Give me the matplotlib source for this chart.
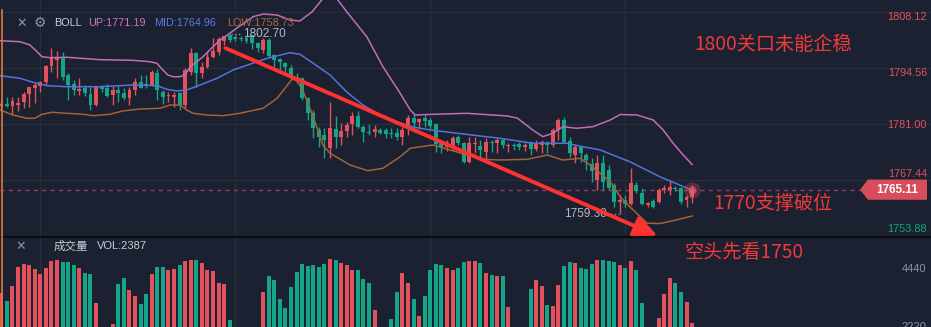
#!/usr/bin/env python

import numpy as np
import matplotlib
matplotlib.use('Agg')
import matplotlib.pyplot as plt
from matplotlib.patches import Polygon, FancyArrowPatch
from matplotlib.lines import Line2D
from matplotlib.transforms import blended_transform_factory

#### Candle data ####
opens = [1785.4, 1785.9, 1785.4, 1785.6, 1786.3, 1788.3, 1789.7, 1790.2, 1791.2, 1795.1,
         1796.5, 1797.2, 1792.9, 1790.7, 1789.0, 1789.7, 1788.3, 1785.6, 1790.0, 1789.7,
         1788.0, 1789.2, 1788.5, 1787.3, 1789.2, 1791.2, 1790.7, 1790.5, 1793.4, 1788.8,
         1787.8, 1787.6, 1788.5, 1785.6, 1793.6, 1798.2, 1793.4, 1794.8, 1797.2, 1798.4,
         1801.1, 1802.5, 1802.1, 1801.8, 1801.8, 1802.5, 1800.6, 1798.9, 1801.4, 1797.7,
         1796.8, 1795.8, 1794.6, 1792.4, 1792.2, 1787.3, 1783.7, 1779.6, 1778.4, 1775.2,
         1779.8, 1777.9, 1779.3, 1781.0, 1782.9, 1780.3, 1779.1, 1779.1, 1779.6, 1779.6,
         1778.7, 1778.8, 1777.9, 1780.3, 1782.5, 1781.5, 1782.5, 1782.0, 1781.0, 1776.7,
         1775.4, 1775.4, 1777.9, 1776.4, 1771.8, 1776.2, 1775.7, 1774.2, 1776.7, 1776.4,
         1777.1, 1775.7, 1775.9, 1776.2, 1775.4, 1776.4, 1775.0, 1775.9, 1776.4, 1775.9,
         1779.6, 1782.0, 1776.9, 1773.5, 1775.4, 1773.5, 1771.3, 1767.5, 1771.6, 1769.9,
         1766.2, 1762.1, 1762.6, 1761.6, 1766.2, 1764.3, 1761.4, 1762.4, 1762.1, 1765.0,
         1765.0, 1765.5, 1765.5, 1762.6, 1763.3]
highs = [1786.8, 1787.5, 1787.5, 1787.5, 1788.8, 1790.0, 1790.9, 1791.4, 1795.3, 1799.4,
         1798.7, 1798.4, 1793.4, 1791.7, 1792.2, 1790.5, 1790.0, 1790.0, 1790.5, 1790.7,
         1790.2, 1790.2, 1789.7, 1790.0, 1792.2, 1792.9, 1792.9, 1794.1, 1794.3, 1789.2,
         1788.8, 1788.8, 1788.8, 1794.6, 1799.4, 1798.4, 1796.0, 1798.4, 1801.8, 1802.1,
         1802.4, 1802.7, 1802.5, 1802.3, 1802.3, 1802.6, 1800.9, 1801.8, 1801.8, 1798.0,
         1797.0, 1796.0, 1795.3, 1793.4, 1792.4, 1787.6, 1784.4, 1780.3, 1780.0, 1786.3,
         1782.9, 1781.3, 1781.5, 1783.9, 1784.2, 1780.8, 1781.0, 1780.8, 1780.0, 1780.0,
         1780.0, 1780.0, 1780.3, 1783.2, 1783.4, 1782.5, 1783.2, 1782.5, 1781.3, 1777.1,
         1777.1, 1778.1, 1778.4, 1776.7, 1777.9, 1777.9, 1777.1, 1777.6, 1777.1, 1777.6,
         1777.4, 1776.4, 1776.4, 1776.7, 1776.4, 1776.9, 1777.1, 1777.1, 1776.9, 1780.0,
         1782.5, 1782.7, 1777.9, 1775.9, 1775.6, 1774.0, 1772.8, 1773.5, 1773.5, 1771.1,
         1766.7, 1763.8, 1763.8, 1770.4, 1767.0, 1765.5, 1762.1, 1762.9, 1765.5, 1766.2,
         1767.5, 1766.0, 1765.8, 1763.8, 1766.2]
lows = [1784.9, 1785.1, 1783.2, 1784.2, 1784.9, 1785.1, 1786.1, 1788.8, 1790.5, 1793.6,
        1792.2, 1791.7, 1786.8, 1788.0, 1788.0, 1787.8, 1784.4, 1785.4, 1788.8, 1787.6,
        1785.6, 1786.3, 1786.8, 1785.6, 1788.0, 1789.7, 1789.7, 1790.2, 1786.8, 1785.9,
        1786.3, 1785.1, 1784.4, 1784.9, 1792.9, 1790.0, 1792.2, 1794.6, 1797.0, 1797.7,
        1800.1, 1800.9, 1801.1, 1801.1, 1800.6, 1799.2, 1798.4, 1798.2, 1797.0, 1794.6,
        1794.1, 1793.6, 1792.2, 1790.9, 1786.8, 1782.0, 1777.6, 1775.4, 1772.8, 1772.8,
        1775.2, 1775.9, 1777.9, 1778.4, 1780.0, 1776.7, 1778.4, 1777.9, 1778.6, 1777.6,
        1777.6, 1777.1, 1775.9, 1778.4, 1779.1, 1779.8, 1780.3, 1779.8, 1774.2, 1774.0,
        1774.5, 1774.7, 1775.9, 1771.6, 1771.6, 1774.0, 1772.8, 1772.3, 1774.2, 1774.0,
        1775.2, 1774.2, 1774.7, 1774.7, 1774.5, 1773.5, 1774.5, 1774.0, 1774.0, 1775.4,
        1777.1, 1776.4, 1773.0, 1771.6, 1771.8, 1769.9, 1767.0, 1765.0, 1765.0, 1765.0,
        1760.9, 1759.3, 1760.9, 1761.4, 1764.3, 1761.4, 1760.9, 1760.7, 1761.9, 1764.3,
        1763.8, 1764.8, 1761.6, 1760.9, 1761.9]
closes = [1785.9, 1785.4, 1786.6, 1786.1, 1788.3, 1790.0, 1790.5, 1791.2, 1795.1, 1797.0,
          1797.2, 1792.4, 1790.5, 1789.2, 1789.5, 1788.5, 1785.6, 1790.0, 1789.5, 1787.8,
          1789.2, 1788.5, 1787.3, 1789.2, 1791.2, 1789.7, 1790.2, 1793.6, 1789.2, 1787.6,
          1788.0, 1788.0, 1785.6, 1794.1, 1798.2, 1793.4, 1794.8, 1797.2, 1798.7, 1801.6,
          1802.3, 1801.4, 1801.6, 1801.6, 1801.1, 1800.6, 1799.4, 1801.4, 1797.5, 1796.5,
          1796.0, 1794.8, 1792.4, 1791.7, 1787.3, 1783.7, 1780.0, 1777.9, 1777.1, 1780.0,
          1777.9, 1779.3, 1780.8, 1782.9, 1780.3, 1779.1, 1778.8, 1779.8, 1778.8, 1778.6,
          1778.5, 1777.9, 1779.6, 1782.5, 1781.3, 1782.2, 1781.7, 1780.5, 1776.1, 1775.4,
          1776.2, 1777.6, 1776.4, 1771.8, 1776.4, 1776.4, 1774.7, 1776.7, 1776.4, 1777.1,
          1775.9, 1775.9, 1775.7, 1775.4, 1775.9, 1775.0, 1776.4, 1776.7, 1775.9, 1779.6,
          1782.0, 1776.6, 1774.0, 1775.4, 1774.0, 1772.3, 1769.6, 1771.6, 1767.0, 1765.5,
          1762.1, 1762.6, 1761.6, 1766.7, 1764.8, 1761.6, 1761.9, 1760.9, 1765.0, 1765.5,
          1765.8, 1765.3, 1762.1, 1763.3, 1765.11]
volumes = [3522, 3218, 3776, 4535, 4649, 4585, 4433, 4243, 4497, 4763,
           4801, 4725, 4725, 4585, 4497, 4308, 4243, 3143, 1900, 1800,
           2334, 3852, 4118, 3624, 3397, 3093, 3473, 4243, 4535, 4535,
           4395, 4459, 4611, 4763, 4801, 4801, 4687, 4421, 4357, 3928,
           3852, 2486, 1900, 1700, 1800, 2000, 2100, 3549, 4194, 4042,
           3283, 2941, 3738, 4346, 4649, 4573, 4611, 4535, 4649, 4839,
           4801, 4687, 4611, 4421, 4421, 4080, 3928, 2865, 1950, 2050,
           2524, 3549, 4308, 3890, 3283, 2638, 3397, 4421, 4649, 4611,
           4497, 4421, 4497, 4725, 4763, 4763, 4687, 4308, 4232, 4194,
           4194, 2979, 1900, 1800, 2050, 3662, 4042, 3776, 3055, 3017,
           3814, 4573, 4725, 4687, 4497, 4459, 4649, 4801, 4801, 4763,
           4725, 4611, 4497, 4763, 4421, 3131, 2000, 2100, 2562, 3473,
           4118, 3928, 3549, 3169, 2387]

#### BOLL traces (candle index, price) ####
up_idx = [-0.24, 3.35, 5.15, 6.4, 7.3, 8.7, 11.8, 17.7, 23.6, 26.7, 27.9, 29.0, 29.9,
          30.8, 32.1, 33.0, 33.9, 35.1, 36.2, 38.0, 39.3, 41.0, 42.8, 45.2, 47.0, 49.5,
          51.8, 53.6, 55.8, 59.0, 62.0, 65.6, 68.5, 71.6, 73.4, 74.3, 77.5, 83.6, 90.8,
          92.6, 95.4, 97.2, 99.0, 100.8, 103.3, 106.2, 109.3, 111.1, 114.1, 117.0, 118.8,
          120.6, 122.4, 124.0]
up_val = [1801.18, 1800.93, 1800.14, 1798.51, 1797.30, 1797.06, 1797.16, 1796.58, 1796.43,
          1796.09, 1795.71, 1794.08, 1792.87, 1792.46, 1792.46, 1793.04, 1794.88, 1796.09,
          1797.30, 1799.72, 1801.35, 1802.97, 1804.74, 1806.99, 1807.64, 1807.40, 1806.19,
          1805.95, 1808.20, 1813.50, 1808.20, 1802.14, 1794.88, 1788.44, 1784.40, 1783.19,
          1783.36, 1783.60, 1782.95, 1782.46, 1779.56, 1777.94, 1778.76, 1780.36, 1779.97,
          1780.36, 1781.98, 1783.31, 1783.19, 1781.98, 1779.56, 1776.34, 1773.50, 1771.19]
mid_idx = [-0.24, 3.35, 5.7, 8.2, 11.8, 17.7, 23.6, 28.0, 29.7, 31.5, 33.3, 35.7, 38.7,
           41.6, 47.7, 51.8, 53.6, 56.0, 59.0, 62.0, 64.9, 68.0, 71.0, 73.9, 77.0, 82.9,
           89.5, 95.4, 101.5, 104.4, 107.5, 112.8, 118.2, 124.0]
mid_val = [1792.70, 1792.07, 1791.11, 1790.28, 1790.04, 1790.04, 1790.45, 1790.28, 1789.41,
           1789.00, 1789.24, 1790.45, 1792.07, 1794.08, 1796.91, 1798.27, 1797.88, 1795.71,
           1792.87, 1788.76, 1785.61, 1783.19, 1781.49, 1780.28, 1779.56, 1778.59, 1777.55,
           1776.34, 1776.34, 1775.51, 1774.72, 1771.88, 1768.25, 1764.96]
low_idx = [-0.24, 2.1, 4.6, 6.0, 7.3, 9.1, 11.8, 14.7, 16.5, 19.5, 21.8, 24.9, 28.5, 30.3,
           32.1, 33.3, 34.4, 36.9, 39.8, 42.8, 47.0, 49.5, 50.9, 52.2, 53.1, 54.2, 55.4,
           56.7, 57.7, 59.0, 62.6, 65.8, 68.5, 71.6, 73.4, 77.5, 83.6, 86.5, 89.5, 94.4,
           98.0, 100.8, 103.9, 105.7, 107.5, 109.3, 111.1, 112.8, 115.9, 118.2, 120.6, 124.0]
low_val = [1784.40, 1783.19, 1782.39, 1782.39, 1783.36, 1783.84, 1783.60, 1783.36, 1783.02,
           1783.36, 1784.16, 1784.64, 1784.81, 1785.61, 1785.61, 1784.40, 1783.60, 1783.19,
           1783.02, 1783.60, 1784.81, 1787.23, 1789.65, 1791.90, 1791.42, 1788.83, 1784.81,
           1779.97, 1775.93, 1773.92, 1771.08, 1769.70, 1770.28, 1773.09, 1775.13, 1775.93,
           1773.51, 1772.46, 1772.29, 1772.46, 1773.51, 1772.29, 1772.71, 1771.08, 1769.07,
           1767.04, 1763.41, 1760.99, 1757.00, 1756.90, 1757.60, 1758.73]

# price axis levels, volume axis levels
price_levels = [1808.12, 1794.56, 1781.00, 1767.44, 1753.88]
volume_levels = [4440, 2220]
last_price = 1765.11
last_vol = 2387
peak_price = 1802.70
trough_price = 1759.30
trend_start = (40.2, 1799.4)
trend_end = (117.8, 1753.9)

#### Colours ####
bg = '#1b2130'
grid_col = '#262d3b'
red = '#e2515c'
green = '#14a587'
up_col = '#c46cb9'
mid_col = '#5672df'
low_col = '#a2623a'
note_col = '#f23a3a'
text_col = '#c9ccd4'
muted = '#8f95a1'

W, H = 931, 327
def fig_xy(x, y):
    return x / W, 1 - y / H

opens = np.array(opens)
closes = np.array(closes)
highs = np.array(highs)
lows = np.array(lows)
idx = np.arange(len(opens))
rising = closes >= opens
colors = np.where(rising, red, green)

fig = plt.figure(figsize=(W / 100, H / 100), dpi=100)
fig.patch.set_facecolor(bg)

split = 236.5
ax = fig.add_axes([0, (H - split) / H, 1, split / H])
axv = fig.add_axes([0, 0, 1, (H - split - 1.5) / H])

xmin, xmax = -0.239, 166.88
for a in (ax, axv):
    a.set_facecolor(bg)
    a.set_xlim(xmin, xmax)
    a.set_xticks([])
    a.set_yticks([])
    for s in a.spines.values():
        s.set_visible(False)
    for gx in [7, 42, 77, 112]:
        a.axvline(gx, color=grid_col, lw=1, zorder=0)

ax.set_ylim(1753.77, 1811.03)
axv.set_ylim(2220, 5636)

#### Price panel ####
for lv in price_levels[:-1]:
    ax.axhline(lv, color=grid_col, lw=1, zorder=0)

ax.vlines(idx, lows, highs, colors=colors, lw=1, zorder=2)
body = np.maximum(np.abs(closes - opens), 0.25)
ax.bar(idx, body, bottom=np.minimum(opens, closes), width=0.7, color=colors,
       linewidth=0, zorder=3)

ax.plot(up_idx, up_val, color=up_col, lw=1.1, zorder=4)
ax.plot(mid_idx, mid_val, color=mid_col, lw=1.1, zorder=4)
ax.plot(low_idx, low_val, color=low_col, lw=1.1, zorder=4)

# last price line and the glowing dot on the last candle
box_left = (860 - 1.33) / 5.571
ax.plot([xmin, box_left], [last_price, last_price], color='#8e4253', lw=1,
        dashes=(3, 3), zorder=1)
ax.scatter([idx[-1]], [last_price], s=140, color='#ff4d5e', alpha=0.25, lw=0, zorder=5)
ax.scatter([idx[-1]], [last_price], s=35, color='#ff5c6c', alpha=0.55, lw=0, zorder=5)

# high / low markers
ax.plot([41.3, 43.1], [peak_price, peak_price], color=muted, lw=1, ls=':', zorder=5)
ax.text(43.4, peak_price, '%.2f' % peak_price, color='#b4b8c2', fontsize=8.5,
        family='Liberation Sans', ha='left', va='center', zorder=6)
ax.plot([108.8, 110.8], [trough_price, trough_price], color=muted, lw=1, ls=':', zorder=5)
ax.text(108.6, trough_price, '%.2f' % trough_price, color='#b4b8c2', fontsize=8.5,
        family='Liberation Sans', ha='right', va='center', zorder=6)

# trend arrow
arrow = FancyArrowPatch(trend_start, trend_end,
                        arrowstyle='-|>,head_length=0.7,head_width=0.32',
                        mutation_scale=20, color='#ff3131', lw=2.8, zorder=7,
                        clip_on=False, shrinkA=0, shrinkB=0)
ax.add_patch(arrow)

# price axis labels
yt = ax.get_yaxis_transform()
label_cols = [red, red, red, red, green]
label_dy = [-5, -5, -1, 6, 7]
for lv, c, dy in zip(price_levels, label_cols, label_dy):
    ax.annotate('%.2f' % lv, xy=(0.9957, lv), xycoords=yt, xytext=(0, dy),
                textcoords='offset pixels', ha='right', va='center', color=c,
                fontsize=7.8, family='Liberation Sans', zorder=8)

# last price tag
bt = blended_transform_factory(ax.transAxes, ax.transData)
hh = 2.45
tag = Polygon([(860 / W, last_price), (868 / W, last_price + hh), (927 / W, last_price + hh),
               (927 / W, last_price - hh), (868 / W, last_price - hh)],
              closed=True, transform=bt, facecolor='#d84d59', edgecolor='none', zorder=9)
ax.add_patch(tag)
ax.text(897 / W, last_price, '%.2f' % last_price, transform=bt, color='white',
        fontsize=8.5, fontweight='bold', family='Liberation Sans',
        ha='center', va='center', zorder=10)

#### Volume panel ####
axv.bar(idx, volumes, width=0.72, color=colors, linewidth=0, zorder=2)
vt = axv.get_yaxis_transform()
for lv in volume_levels:
    axv.text(0.9946, lv, str(lv), transform=vt, ha='right', va='center',
             color=muted, fontsize=8, family='Liberation Sans', clip_on=False)

# panel separator and left border
fig.add_artist(Line2D([0, 1], [1 - split / H] * 2, color='#0b0d12', lw=1.6))
fig.add_artist(Line2D([1.5 / W] * 2, [0, 1 - 10 / H], color='#e07838', lw=1.2))

#### Header texts ####
fig.text(*fig_xy(22, 23), '\u2715', color=muted, fontsize=9, ha='center', va='center',
         family='DejaVu Sans')
fig.text(*fig_xy(40, 23), '\u2699', color=muted, fontsize=10, ha='center', va='center',
         family='DejaVu Sans')
legend = [('BOLL', 54, text_col), ('UP:1771.19', 88, '#cc74c2'),
          ('MID:1764.96', 154, '#5d7ae6'), ('LOW:1758.73', 227, '#a8693f')]
for s, x, c in legend:
    fig.text(*fig_xy(x, 23.5), s, color=c, fontsize=7.8, ha='left', va='center',
             family='Liberation Sans')

fig.text(*fig_xy(21, 246), '\u2715', color=muted, fontsize=9, ha='center', va='center',
         family='DejaVu Sans')
fig.text(*fig_xy(54, 246), '成交量', color=text_col, fontsize=8.3, ha='left', va='center',
         family=['Noto Sans CJK SC', 'DejaVu Sans'])
fig.text(*fig_xy(97, 246), 'VOL:%d' % last_vol, color=text_col, fontsize=8, ha='left',
         va='center', family='Liberation Sans')

#### Notes ####
cjk = ['Noto Sans CJK SC', 'DejaVu Sans']
fig.text(*fig_xy(773, 45), '1800关口未能企稳', color=note_col, fontsize=13.8,
         ha='center', va='center', family=cjk)
fig.text(*fig_xy(773, 203), '1770支撑破位', color=note_col, fontsize=13.8,
         ha='center', va='center', family=cjk)
fig.text(*fig_xy(744, 253), '空头先看1750', color=note_col, fontsize=13.8,
         ha='center', va='center', family=cjk)

fig.savefig('out.png', dpi=100, facecolor=bg)
